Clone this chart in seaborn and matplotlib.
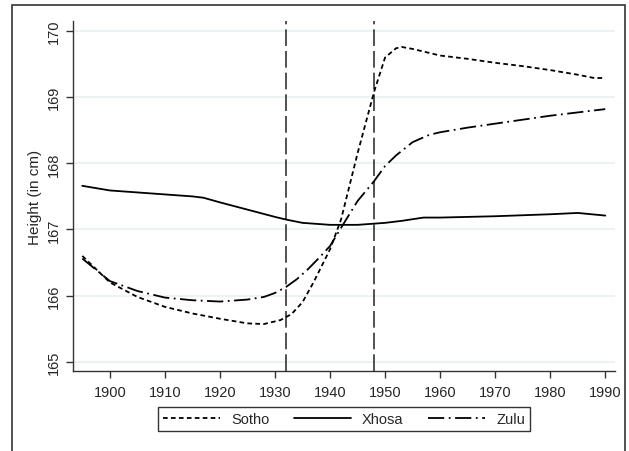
import matplotlib
matplotlib.use("Agg")
import matplotlib.pyplot as plt
import pandas as pd
import seaborn as sns
from matplotlib.lines import Line2D
from matplotlib.patches import Rectangle

# values
sotho_years = [1895, 1900, 1905, 1910, 1915, 1920, 1925, 1928, 1931, 1933, 1935, 1937,
               1940, 1942, 1945, 1948, 1950, 1952, 1953, 1955, 1960, 1965, 1970, 1975,
               1980, 1985, 1988, 1990]
sotho_height = [166.6, 166.2, 165.98, 165.83, 165.73, 165.65, 165.58, 165.57, 165.63, 165.72,
                165.9, 166.2, 166.7, 167.15, 168.15, 169.08, 169.6, 169.74, 169.76, 169.73,
                169.63, 169.58, 169.52, 169.47, 169.41, 169.34, 169.29, 169.29]

xhosa_years = [1895, 1900, 1905, 1910, 1915, 1917, 1920, 1925, 1930, 1932, 1935, 1940,
               1945, 1950, 1953, 1957, 1960, 1970, 1980, 1985, 1990]
xhosa_height = [167.66, 167.59, 167.56, 167.53, 167.5, 167.48, 167.41, 167.3, 167.19, 167.15,
                167.1, 167.07, 167.07, 167.1, 167.13, 167.18, 167.18, 167.2, 167.23, 167.25, 167.21]

zulu_years = [1895, 1900, 1905, 1910, 1915, 1920, 1925, 1928, 1930, 1932, 1934, 1936,
              1938, 1940, 1943, 1945, 1948, 1950, 1952, 1955, 1958, 1960, 1965, 1970,
              1975, 1980, 1985, 1990]
zulu_height = [166.56, 166.22, 166.07, 165.97, 165.93, 165.91, 165.94, 165.98, 166.04, 166.13,
               166.25, 166.4, 166.57, 166.75, 167.16, 167.43, 167.73, 167.96, 168.12, 168.32,
               168.43, 168.47, 168.54, 168.6, 168.66, 168.72, 168.77, 168.82]

cutoffs = [1932, 1948]
x_ticks = [1900, 1910, 1920, 1930, 1940, 1950, 1960, 1970, 1980, 1990]
y_ticks = [165, 166, 167, 168, 169, 170]

series = {"Sotho": (sotho_years, sotho_height),
          "Xhosa": (xhosa_years, xhosa_height),
          "Zulu": (zulu_years, zulu_height)}
styles = {"Sotho": (0, (2.6, 1.8)), "Xhosa": "-", "Zulu": (0, (9, 2.5, 1, 2.5))}

sns.set_theme(style="white")
plt.rcParams["font.family"] = ["Liberation Sans", "DejaVu Sans"]

fig = plt.figure(figsize=(6.29, 4.52), dpi=100)
ax = fig.add_axes([0.116, 0.177, 0.862, 0.774])

for name, (yrs, vals) in series.items():
    df = pd.DataFrame({"year": yrs, "height": vals})
    sns.lineplot(data=df, x="year", y="height", ax=ax, color="black",
                 linewidth=1.3, linestyle=styles[name], legend=False)

for c in cutoffs:
    ax.axvline(c, color="#333333", linewidth=1.2, linestyle=(0, (10, 3)), zorder=1)

ax.set_xlim(1893.3, 1991.8)
ax.set_ylim(164.86, 170.15)
ax.set_xticks(x_ticks)
ax.set_yticks(y_ticks)
ax.set_xlabel("")
ax.set_ylabel("Height (in cm)", fontsize=11, labelpad=4)
ax.grid(axis="y", color="#e8f0f2", linewidth=1.2)
ax.set_axisbelow(True)
for s in ["top", "right"]:
    ax.spines[s].set_visible(False)
for s in ["left", "bottom"]:
    ax.spines[s].set_color("#333333")
    ax.spines[s].set_linewidth(1.0)
ax.tick_params(axis="both", direction="out", length=5, width=1, color="#333333",
               labelsize=10.5, bottom=True, left=True)
ax.tick_params(axis="x", pad=5)
for lbl in ax.get_yticklabels():
    lbl.set_rotation(90)
    lbl.set_va("center")

handles = [Line2D([], [], color="black", linewidth=1.3, linestyle=styles[n]) for n in series]
leg = ax.legend(handles, list(series.keys()), loc="upper center",
                bbox_to_anchor=(0.5, -0.081), ncol=3, frameon=True, fancybox=False,
                fontsize=10.5, handlelength=3.9, columnspacing=1.7, borderpad=0.35,
                handletextpad=0.75)
leg.get_frame().set_edgecolor("black")
leg.get_frame().set_linewidth(1.0)

fig.patches.append(Rectangle((12 / 629, -0.02), 613 / 629, 1.02 - 6 / 452,
                             transform=fig.transFigure, fill=False,
                             edgecolor="#333333", linewidth=1.2))

fig.savefig("out.png", dpi=100)
